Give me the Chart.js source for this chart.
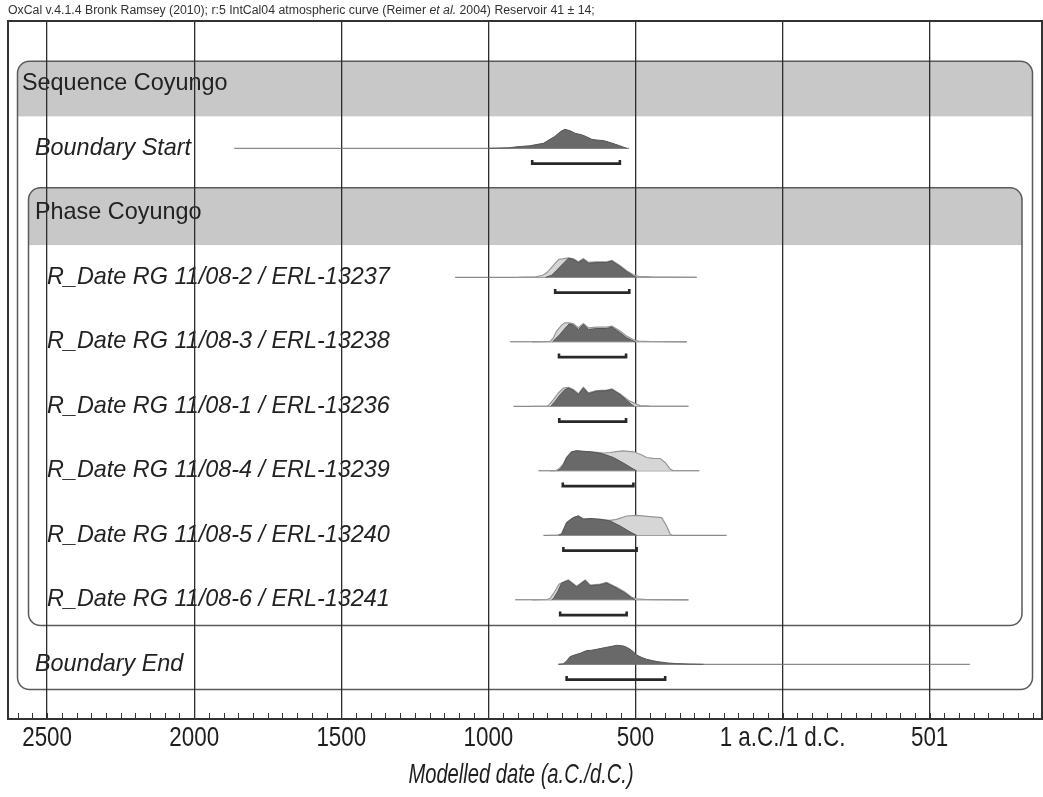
<!DOCTYPE html>
<html>
<head>
<meta charset="utf-8">
<script src="https://cdn.jsdelivr.net/npm/chart.js@4/dist/chart.umd.min.js"></script>
<style>
  html, body { margin: 0; padding: 0; background: #fff; }
  #wrap { width: 1043px; height: 797px; position: relative; }
</style>
</head>
<body>
<div id="wrap"><canvas id="c"></canvas></div>
<script>
// ---------------- DATA ----------------
const headerText = ['OxCal v.4.1.4 Bronk Ramsey (2010); r:5 IntCal04 atmospheric curve (Reimer ', 'et al.', ' 2004) Reservoir 41 \u00b1 14;'];
const axisTitle = 'Modelled date (a.C./d.C.)';
const tickValues = [-2500, -2000, -1500, -1000, -500, 0, 500];
const tickLabels = ['2500', '2000', '1500', '1000', '500', '1 a.C./1 d.C.', '501'];
const sequenceName = 'Sequence Coyungo';
const phaseName = 'Phase Coyungo';
const rowLabels = ['Boundary Start', 'R_Date RG 11/08-2 / ERL-13237', 'R_Date RG 11/08-3 / ERL-13238',
  'R_Date RG 11/08-1 / ERL-13236', 'R_Date RG 11/08-4 / ERL-13239', 'R_Date RG 11/08-5 / ERL-13240',
  'R_Date RG 11/08-6 / ERL-13241', 'Boundary End'];
// full range of each distribution (thin line)
const rangeFrom = [-1864, -1113, -926, -915, -830, -813, -909, -762];
const rangeTo   = [-522, -292, -326, -320, -283, -190, -320, 637];
// 95.4% highest posterior density ranges (brackets)
const hpdFrom = [-851, -773, -760, -759, -747, -745, -756, -734];
const hpdTo   = [-553, -521, -532, -532, -507, -496, -530, -399];

// posterior (modelled) distributions: years & relative probability
const postYears = [
  [-1000, -930, -903, -860, -813, -776, -753, -740, -722, -705, -683, -666, -649, -632, -609, -586, -558, -530],
  [-805, -785, -768, -745, -728, -711, -694, -677, -660, -632, -598, -580, -552, -530, -507, -496],
  [-782, -768, -757, -740, -725, -711, -694, -677, -660, -632, -598, -580, -552, -530, -507, -500],
  [-788, -773, -756, -740, -728, -711, -694, -677, -660, -632, -598, -580, -552, -530, -513, -505],
  [-765, -756, -745, -734, -717, -700, -680, -654, -630, -609, -575, -541, -507, -496],
  [-760, -751, -734, -711, -694, -677, -654, -620, -586, -552, -518, -496],
  [-785, -779, -765, -751, -728, -700, -671, -654, -620, -598, -564, -535, -513, -502],
  [-762, -745, -735, -722, -705, -688, -666, -650, -632, -615, -598, -580, -564, -541, -530, -518, -505, -496, -480, -462, -440, -416, -390, -360, -320, -269]
];
const postProb = [
  [0, 0.5, 1.5, 2.5, 5, 11.5, 17, 19, 17.5, 15, 13.5, 11.5, 9, 8.3, 7.7, 5.7, 3, 0],
  [0, 2, 7, 14, 19, 18, 14.7, 18, 14, 14.7, 14.7, 16.3, 10.7, 5.7, 1.3, 0],
  [0, 4, 7.3, 13.3, 18, 16.7, 12.3, 17.3, 12.3, 13.3, 13.3, 14.7, 9, 4, 0.7, 0],
  [0, 5, 11.7, 16.7, 18.3, 16, 11.7, 18.3, 12.7, 15, 15.7, 16.7, 11.7, 6, 1.7, 0],
  [0, 1.5, 6, 13.3, 19, 20, 19.5, 19, 18, 16.7, 13.3, 7.7, 1.7, 0],
  [0, 1, 12.7, 17.7, 19.3, 16, 16.7, 16, 14.3, 9.3, 3.3, 0],
  [0, 1, 8, 16.7, 19.3, 12.7, 19.3, 14, 15, 16.7, 11.7, 6.7, 1.7, 0],
  [0, 0.5, 3, 7.7, 9.5, 11, 13.7, 14, 15, 16, 17, 18, 19, 18.3, 17, 15, 12, 9.3, 7, 5, 3.5, 2.3, 1.3, 0.7, 0.3, 0]
];
// likelihood (unmodelled) distributions for the R_Dates
const likeYears = [
  null,
  [-900, -840, -815, -800, -785, -770, -760, -748, -728, -711, -694, -677, -660, -632, -598, -580, -552, -530, -507, -490, -450, -400, -292],
  [-850, -790, -779, -768, -751, -740, -725, -711, -694, -677, -660, -632, -598, -580, -552, -530, -507, -490, -450, -326],
  [-850, -800, -795, -779, -762, -745, -728, -711, -694, -677, -660, -632, -598, -580, -552, -524, -501, -484, -450, -320],
  [-790, -770, -760, -745, -734, -717, -700, -680, -654, -630, -609, -586, -560, -541, -507, -480, -462, -440, -416, -399, -382, -371],
  [-790, -765, -751, -734, -711, -694, -677, -654, -620, -586, -564, -530, -496, -450, -411, -394, -382, -375],
  [-850, -800, -790, -775, -760, -740, -728, -700, -671, -654, -620, -598, -564, -535, -513, -496, -470, -420, -320],
  null
];
const likeProb = [
  null,
  [0, 0.5, 2, 5, 10, 15, 18, 18.5, 19.5, 18.5, 15.5, 18.5, 15, 15.5, 15.5, 17, 11.5, 6.5, 2.5, 1, 0.5, 0.3, 0],
  [0, 0.5, 4, 10.7, 16.7, 19, 19, 18, 14, 18.3, 14, 14.7, 14.7, 15.7, 10.7, 5.7, 2, 0.7, 0.3, 0],
  [0, 0.3, 1, 6.7, 13.3, 18.3, 19, 16.7, 12.5, 19, 13.5, 15.7, 16.3, 17.3, 12.3, 6, 2.7, 0.7, 0.3, 0],
  [0, 0.2, 2, 7, 13.5, 19, 20, 19.5, 19, 18.5, 17.8, 18.3, 19.5, 20, 19, 16, 13.3, 12.5, 12.3, 8.3, 1.7, 0],
  [0, 0.2, 1.5, 12.7, 17.7, 19.3, 16.5, 16.7, 16, 15, 16, 19.3, 20, 18.7, 17.7, 9.3, 1, 0],
  [0, 0.3, 1.5, 8, 15.5, 18.5, 19.8, 13.5, 19.8, 14.8, 15.8, 17.3, 12.5, 7.5, 2.5, 1, 0.5, 0.2, 0],
  null
];

// ---------------- LAYOUT / STYLE ----------------
const ROW_OF = [2, 4, 5, 6, 7, 8, 9, 10];       // row slot of each entry
const ROW_INDENT = [35, 47, 47, 47, 47, 47, 47, 35];
const PX_ROW = 64.5, ROW0 = 19.3;                // pixel geometry of row slots
const AREA_TOP = 21, AREA_BOTTOM = 719;
const PROB_SCALE = 1 / PX_ROW;
const X_MIN = -2633, X_MAX = 882;
const DARK = 'rgb(105,105,105)', DARK_LINE = 'rgb(85,85,85)';
const LIGHT = 'rgb(214,214,214)', LIGHT_LINE = 'rgb(150,150,150)';
const HEAD = 'rgb(200,200,200)';
const SANS = '"Liberation Sans", Arial, sans-serif';
const LABEL_FONT = '23.4px ' + SANS;
const LABEL_FONT_I = 'italic 23.4px ' + SANS;

const datasets = [];
rowLabels.forEach((lab, i) => {
  const k = ROW_OF[i];
  datasets.push({
    data: [{x: rangeFrom[i], y: k}, {x: rangeTo[i], y: k}],
    borderColor: 'rgb(110,110,110)', borderWidth: 1, order: 5
  });
  if (likeYears[i]) {
    datasets.push({
      data: likeYears[i].map((x, j) => ({x, y: k - likeProb[i][j] * PROB_SCALE})),
      borderColor: LIGHT_LINE, borderWidth: 1.2, backgroundColor: LIGHT, fill: {value: k}, order: 4
    });
  }
  datasets.push({
    data: postYears[i].map((x, j) => ({x, y: k - postProb[i][j] * PROB_SCALE})),
    borderColor: DARK_LINE, borderWidth: 1, backgroundColor: DARK, fill: {value: k}, order: 3
  });
  datasets.push({
    data: [{x: hpdFrom[i], y: k + 0.18}, {x: hpdFrom[i], y: k + 0.237}, {x: hpdTo[i], y: k + 0.237}, {x: hpdTo[i], y: k + 0.18}],
    borderColor: 'rgb(40,40,40)', borderWidth: 2.6, order: 1
  });
});
datasets.forEach(d => { d.showLine = true; d.pointRadius = 0; d.tension = 0; if (!d.fill) d.fill = false; });

function roundBox(ctx, x1, y1, x2, y2, yh, r) {
  ctx.save();
  ctx.beginPath();
  ctx.roundRect(x1, y1, x2 - x1, y2 - y1, r);
  ctx.fillStyle = '#fff';
  ctx.fill();
  ctx.save();
  ctx.clip();
  ctx.fillStyle = HEAD;
  ctx.fillRect(x1, y1, x2 - x1, yh - y1);
  ctx.restore();
  ctx.strokeStyle = 'rgb(90,90,90)';
  ctx.lineWidth = 1.5;
  ctx.stroke();
  ctx.restore();
}

// condensed text (the original uses a narrow face)
function narrowText(ctx, text, x, y, font, sx) {
  ctx.save();
  ctx.translate(x, y);
  ctx.scale(sx, 1);
  ctx.font = font;
  ctx.textAlign = 'center';
  ctx.textBaseline = 'middle';
  ctx.fillText(text, 0, 0);
  ctx.restore();
}

const decor = {
  id: 'decor',
  beforeDraw(chart) {
    const {ctx, chartArea: ca, scales: {y}} = chart;
    const py = v => y.getPixelForValue(v);
    ctx.save();
    ctx.fillStyle = '#fff';
    ctx.fillRect(0, 0, chart.width, chart.height);
    roundBox(ctx, ca.left + 9.5, py(0.65), ca.right - 9.5, py(10.39), py(1.505), 12);
    roundBox(ctx, ca.left + 20.5, py(2.61), ca.right - 20, py(9.40), py(3.50), 12);
    ctx.fillStyle = 'rgb(34,34,34)';
    ctx.textBaseline = 'middle';
    ctx.font = LABEL_FONT;
    ctx.fillText(sequenceName, ca.left + 14, py(1.0));
    ctx.fillText(phaseName, ca.left + 27, py(3.0));
    ctx.font = LABEL_FONT_I;
    rowLabels.forEach((lab, i) => ctx.fillText(lab, ROW_INDENT[i], py(ROW_OF[i])));
    // header line
    ctx.fillStyle = 'rgb(50,50,50)';
    let x = 8;
    headerText.forEach((t, i) => {
      ctx.font = (i === 1 ? 'italic ' : '') + '12.3px ' + SANS;
      ctx.fillText(t, x, 11);
      x += ctx.measureText(t).width;
    });
    ctx.restore();
  },
  afterDraw(chart) {
    const {ctx, chartArea: ca, scales: {x}} = chart;
    ctx.save();
    ctx.strokeStyle = 'rgb(50,50,50)';
    ctx.lineWidth = 1;
    for (let v = Math.ceil(X_MIN / 50) * 50; v <= X_MAX; v += 50) {
      const px = Math.round(x.getPixelForValue(v)) + 0.5;
      ctx.beginPath();
      ctx.moveTo(px, ca.bottom);
      ctx.lineTo(px, ca.bottom - 6);
      ctx.stroke();
    }
    ctx.lineWidth = 2;
    ctx.strokeRect(ca.left, ca.top, ca.right - ca.left, ca.bottom - ca.top);
    // tick labels and axis title
    ctx.fillStyle = 'rgb(30,30,30)';
    tickValues.forEach((v, i) => narrowText(ctx, tickLabels[i], x.getPixelForValue(v), ca.bottom + 19, '28px ' + SANS, 0.8));
    narrowText(ctx, axisTitle, (ca.left + ca.right) / 2 - 4, 775, 'italic 28px ' + SANS, 0.72);
    ctx.restore();
  }
};

new Chart(document.getElementById('c'), {
  type: 'scatter',
  data: {datasets},
  plugins: [decor],
  options: {
    responsive: true,
    maintainAspectRatio: false,
    animation: false,
    layout: {padding: {left: 8, right: 1, top: AREA_TOP, bottom: 0}},
    plugins: {legend: {display: false}, tooltip: {enabled: false}},
    scales: {
      x: {
        type: 'linear', min: X_MIN, max: X_MAX, z: 1,
        afterBuildTicks: s => { s.ticks = tickValues.map(v => ({value: v})); },
        afterFit: s => { s.height = 797 - AREA_BOTTOM; },
        ticks: {display: false, callback: (v, i) => tickLabels[i]},
        grid: {color: 'rgb(45,45,45)', lineWidth: 1.3, drawTicks: false},
        border: {display: true, color: 'rgb(45,45,45)', width: 2},
        title: {display: false, text: axisTitle}
      },
      y: {
        type: 'linear', display: false, reverse: true,
        min: (AREA_TOP - ROW0) / PX_ROW, max: (AREA_BOTTOM - ROW0) / PX_ROW
      }
    }
  }
});
</script>
</body>
</html>
